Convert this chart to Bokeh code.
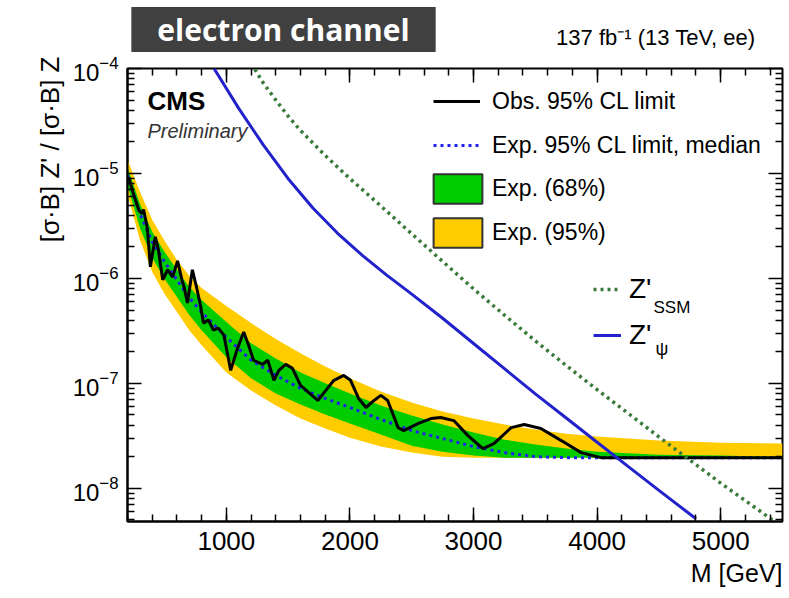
import math
from bokeh.plotting import figure
from bokeh.layouts import column
from bokeh.models import (Range1d, FixedTicker, LinearAxis, LogAxis, Title,
                          Label, Legend, LegendItem, ColumnDataSource)
from bokeh.embed import file_html
from bokeh.resources import INLINE

# ---------------- data ----------------
mass_exp = [200, 300, 400, 500, 600, 700, 800, 1000, 1200, 1400, 1600, 1800, 2000,
            2250, 2500, 2750, 3000, 3250, 3500, 3750, 4000, 4500, 5000, 5500]
exp_median = [9.57e-6, 4.14e-6, 2.24e-6, 1.44e-6, 9.68e-7, 6.51e-7, 4.78e-7, 2.75e-7,
              1.66e-7, 1.19e-7, 8.96e-8, 7.18e-8, 5.89e-8, 4.53e-8, 3.55e-8, 2.98e-8,
              2.50e-8, 2.19e-8, 2.00e-8, 1.96e-8, 1.96e-8, 1.96e-8, 1.96e-8, 1.96e-8]
exp_95_hi = [1.36e-5, 6.72e-6, 3.63e-6, 2.29e-6, 1.50e-6, 1.06e-6, 8.11e-7, 5.46e-7,
             3.75e-7, 2.64e-7, 1.94e-7, 1.45e-7, 1.12e-7, 8.38e-8, 6.58e-8, 5.40e-8,
             4.62e-8, 4.05e-8, 3.63e-8, 3.32e-8, 3.11e-8, 2.85e-8, 2.72e-8, 2.67e-8]
exp_68_hi = [1.14e-5, 5.16e-6, 2.79e-6, 1.79e-6, 1.21e-6, 8.29e-7, 6.23e-7, 3.84e-7,
             2.41e-7, 1.73e-7, 1.27e-7, 1.00e-7, 8.02e-8, 6.16e-8, 4.94e-8, 4.05e-8,
             3.40e-8, 2.91e-8, 2.61e-8, 2.39e-8, 2.23e-8, 2.09e-8, 2.05e-8, 2.00e-8]
exp_68_lo = [7.67e-6, 3.04e-6, 1.57e-6, 9.89e-7, 6.65e-7, 4.47e-7, 3.21e-7, 1.77e-7,
             1.12e-7, 8.02e-8, 6.30e-8, 5.05e-8, 4.14e-8, 3.25e-8, 2.55e-8, 2.23e-8,
             2.05e-8, 1.96e-8, 1.96e-8, 1.96e-8, 1.96e-8, 1.96e-8, 1.96e-8, 1.96e-8]
exp_95_lo = [6.29e-6, 2.34e-6, 1.15e-6, 7.11e-7, 4.78e-7, 3.21e-7, 2.31e-7, 1.27e-7,
             8.57e-8, 6.16e-8, 4.62e-8, 3.71e-8, 3.04e-8, 2.50e-8, 2.19e-8, 2.00e-8,
             1.96e-8, 1.96e-8, 1.96e-8, 1.96e-8, 1.96e-8, 1.96e-8, 1.96e-8, 1.96e-8]

mass_obs = [210, 250, 290, 315, 330, 360, 385, 425, 450, 485, 525, 565, 605, 640, 660,
            685, 725, 760, 790, 815, 855, 895, 935, 980, 1035, 1085, 1140, 1180, 1220,
            1295, 1335, 1385, 1425, 1480, 1535, 1600, 1665, 1740, 1805, 1870, 1950, 2005,
            2070, 2130, 2195, 2250, 2305, 2390, 2435, 2550, 2655, 2735, 2840, 2955, 3075,
            3165, 3305, 3410, 3545, 3710, 3870, 4030, 4360, 4840, 5500]
obs_limit = [9.16e-6, 6.29e-6, 4.53e-6, 4.14e-6, 4.53e-6, 3.04e-6, 1.29e-6, 2.49e-6,
             1.87e-6, 9.68e-7, 1.21e-6, 1.03e-6, 1.47e-6, 9.68e-7, 8.11e-7, 5.83e-7,
             1.21e-6, 8.11e-7, 5.58e-7, 3.75e-7, 4.01e-7, 3.21e-7, 3.36e-7, 2.88e-7,
             1.33e-7, 2.07e-7, 3.08e-7, 2.31e-7, 1.66e-7, 1.52e-7, 1.66e-7, 1.07e-7,
             1.33e-7, 1.52e-7, 1.39e-7, 9.57e-8, 8.20e-8, 6.87e-8, 8.57e-8, 1.07e-7,
             1.19e-7, 1.07e-7, 7.18e-8, 5.89e-8, 6.87e-8, 7.68e-8, 6.87e-8, 3.79e-8,
             3.55e-8, 4.14e-8, 4.62e-8, 4.73e-8, 4.42e-8, 3.18e-8, 2.39e-8, 2.67e-8,
             3.79e-8, 4.05e-8, 3.71e-8, 2.85e-8, 2.19e-8, 1.96e-8, 1.96e-8, 1.96e-8, 1.96e-8]

mass_ssm = [1200, 1300, 1400, 1500, 1600, 1800, 2000, 2250, 2500, 2750, 3000, 3250,
            3500, 3750, 4000, 4250, 4500, 4750, 5000, 5250, 5500]
xsec_ssm = [1.12e-4, 7.24e-5, 5.01e-5, 3.51e-5, 2.57e-5, 1.48e-5, 8.91e-6, 4.90e-6,
            2.66e-6, 1.45e-6, 7.94e-7, 4.47e-7, 2.54e-7, 1.48e-7, 8.71e-8, 5.19e-8,
            3.09e-8, 1.86e-8, 1.12e-8, 6.92e-9, 4.27e-9]

mass_psi = [900, 1100, 1300, 1500, 1700, 1900, 2100, 2300, 2500, 2750, 3000, 3250,
            3500, 3750, 4000, 4250, 4500, 4800]
xsec_psi = [1.00e-4, 4.17e-5, 1.86e-5, 8.91e-6, 4.68e-6, 2.69e-6, 1.66e-6, 1.07e-6,
            7.08e-7, 4.17e-7, 2.40e-7, 1.38e-7, 7.94e-8, 4.68e-8, 2.75e-8, 1.62e-8,
            9.55e-9, 5.13e-9]

x_major = [1000, 2000, 3000, 4000, 5000]
x_minor = list(range(200, 5600, 200))
y_major = [1e-8, 1e-7, 1e-6, 1e-5, 1e-4]
y_minor = [k * 10.0 ** e for e in range(-9, -4) for k in range(2, 10)]

FONT = "Liberation Sans"
HEADER_H = 52
FRAME_LEFT = 127   # page x of the plot frame's left edge (header frame is aligned to it)

# ---------------- header strip (banner + luminosity) ----------------
header = figure(width=789, height=HEADER_H, x_range=Range1d(0, 1), y_range=Range1d(0, 1),
                output_backend="svg", toolbar_location=None, min_border=0,
                x_axis_location=None, y_axis_location=None, title=None)
header.outline_line_color = None
header.background_fill_color = "white"
header.border_fill_color = "white"
header.grid.visible = False

header.add_layout(Label(x=283 - FRAME_LEFT, y=HEADER_H - 29, x_units="screen",
                        y_units="screen", text="electron channel", text_font="Open Sans",
                        text_font_size="30px", text_font_style="bold", text_color="white",
                        text_align="center", text_baseline="middle",
                        background_fill_color="#404040",
                        padding=dict(left=26, right=26, top=2, bottom=2)))
header.add_layout(Label(x=755 - FRAME_LEFT, y=HEADER_H - 37, x_units="screen",
                        y_units="screen", text="137 fb⁻¹ (13 TeV, ee)", text_font=FONT,
                        text_font_size="22px", text_color="black", text_align="right",
                        text_baseline="middle"))

# ---------------- main figure ----------------
p = figure(width=789, height=598 - HEADER_H, y_axis_type="log",
           x_range=Range1d(200, 5500), y_range=Range1d(4.83e-9, 1.0e-4),
           output_backend="svg", toolbar_location=None, title=None,
           min_border_left=FRAME_LEFT, min_border_right=7, min_border_top=68 - HEADER_H,
           min_border_bottom=77)
p.background_fill_color = "white"
p.border_fill_color = "white"
p.outline_line_color = "black"
p.outline_line_width = 2
p.grid.visible = False

xt = FixedTicker(ticks=x_major, minor_ticks=x_minor)
yt = FixedTicker(ticks=y_major, minor_ticks=y_minor)
p.xaxis.ticker = xt
p.yaxis.ticker = yt

for ax in (p.xaxis[0], p.yaxis[0]):
    ax.major_tick_in = 14
    ax.major_tick_out = 0
    ax.minor_tick_in = 7
    ax.minor_tick_out = 0
    ax.major_tick_line_width = 1.5
    ax.minor_tick_line_width = 1.5
    ax.axis_line_width = 2
    ax.major_label_text_font = FONT
    ax.major_label_text_color = "black"
p.xaxis[0].major_label_text_font_size = "26px"
p.xaxis[0].major_label_standoff = 10
p.yaxis[0].major_label_text_font_size = "24px"
p.yaxis[0].major_label_standoff = 9

# mirrored tick marks on the top and right edges (labels not drawn)
top_ax = LinearAxis(ticker=xt, major_tick_in=14, major_tick_out=0, minor_tick_in=7,
                    minor_tick_out=0, major_tick_line_width=1.5, minor_tick_line_width=1.5,
                    major_label_text_font_size="1px", major_label_text_color=None,
                    major_label_standoff=0, axis_line_color=None)
p.add_layout(top_ax, "above")
right_ax = LogAxis(ticker=yt, major_tick_in=14, major_tick_out=0, minor_tick_in=7,
                   minor_tick_out=0, major_tick_line_width=1.5, minor_tick_line_width=1.5,
                   major_label_text_font_size="1px", major_label_text_color=None,
                   major_label_standoff=0, axis_line_color=None)
p.add_layout(right_ax, "right")

# axis titles (right-aligned, ROOT style)
p.add_layout(Title(text="[σ·B] Z' / [σ·B] Z", align="right", offset=-12, standoff=10,
                   text_font=FONT, text_font_size="26px", text_font_style="normal",
                   text_color="black"), "left")
p.add_layout(Title(text="M [GeV]", align="right", standoff=8, text_font=FONT,
                   text_font_size="25px", text_font_style="normal", text_color="black"),
             "below")

# ---------------- glyphs ----------------
YELLOW = "#ffcc00"
GREEN = "#00cc00"
exp_src = ColumnDataSource(dict(m=mass_exp, med=exp_median, y95lo=exp_95_lo, y95hi=exp_95_hi,
                                y68lo=exp_68_lo, y68hi=exp_68_hi))
p.varea(x="m", y1="y95lo", y2="y95hi", source=exp_src, fill_color=YELLOW)
p.varea(x="m", y1="y68lo", y2="y68hi", source=exp_src, fill_color=GREEN)
med_r = p.line(x="m", y="med", source=exp_src, line_color="#2222ee", line_width=3,
               line_dash="3 4")
obs_r = p.line(mass_obs, obs_limit, line_color="black", line_width=3)
ssm_r = p.line(mass_ssm, xsec_ssm, line_color="#3a7a3a", line_width=3.5, line_dash="3 4")
psi_r = p.line(mass_psi, xsec_psi, line_color="#2222cc", line_width=3)

# legend-only box renderers (placed out of view)
g_box = p.quad(left=[-10], right=[-5], top=[1e-3], bottom=[5e-4], fill_color=GREEN,
               line_color="#333333", line_width=2)
y_box = p.quad(left=[-10], right=[-5], top=[1e-3], bottom=[5e-4], fill_color=YELLOW,
               line_color="#333333", line_width=2)

common = dict(padding=0, margin=0, background_fill_alpha=0, border_line_alpha=0,
              label_text_font=FONT, label_text_color="black", orientation="vertical")

leg_lines = Legend(items=[LegendItem(label="Obs. 95% CL limit", renderers=[obs_r]),
                          LegendItem(label="Exp. 95% CL limit, median", renderers=[med_r])],
                   location=(306, 361), glyph_width=47, glyph_height=30, label_height=30,
                   spacing=14, label_standoff=12, label_text_font_size="23px", **common)
leg_boxes = Legend(items=[LegendItem(label="Exp. (68%)", renderers=[g_box]),
                          LegendItem(label="Exp. (95%)", renderers=[y_box])],
                   location=(300, 270), glyph_width=61, glyph_height=37, label_height=37,
                   spacing=7, label_standoff=4, label_text_font_size="23px", **common)
leg_z = Legend(items=[LegendItem(label="Z'", renderers=[ssm_r]),
                      LegendItem(label="Z'", renderers=[psi_r])],
               location=(466, 170), glyph_width=28, glyph_height=30, label_height=30,
               spacing=14, label_standoff=8, label_text_font_size="28px", **common)
for lg in (leg_lines, leg_boxes, leg_z):
    p.add_layout(lg)


def add_label(text, x, y, size, **kw):
    lab = Label(x=x, y=y, x_units="screen", y_units="screen", text=text,
                text_font=FONT, text_font_size=size,
                text_color=kw.pop("color", "black"), **kw)
    p.add_layout(lab)
    return lab


# subscripts of the Z' legend entries
add_label("SSM", 526, 214, "17px", text_baseline="middle")
add_label("ψ", 528, 173, "18px", text_baseline="middle")

# CMS labels
add_label("CMS", 20, 421, "26px", text_font_style="bold", text_baseline="middle")
add_label("Preliminary", 20, 391, "20px", text_font_style="italic", text_baseline="middle",
          color="#333333")

layout = column(header, p, spacing=0)
open("out.html", "w").write(file_html(layout, INLINE))
